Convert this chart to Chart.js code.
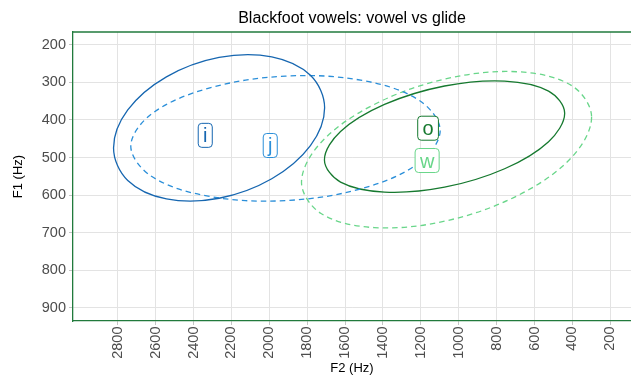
<!DOCTYPE html>
<html>
<head>
<meta charset="utf-8">
<script src="https://cdn.jsdelivr.net/npm/chart.js@4"></script>
<style>
html,body{margin:0;padding:0;background:#fff;}
canvas{display:block;}
</style>
</head>
<body>
<canvas id="c" width="631" height="376"></canvas>
<script>
// ---- data ----
const chartTitle = 'Blackfoot vowels: vowel vs glide';
const xTitle = 'F2 (Hz)';
const yTitle = 'F1 (Hz)';
const xTickValues = [2800, 2600, 2400, 2200, 2000, 1800, 1600, 1400, 1200, 1000, 800, 600, 400, 200];
const yTickValues = [200, 300, 400, 500, 600, 700, 800, 900];

// ellipse outlines (F2, F1) traced around each ellipse
const iF2 = [1708, 1783, 1987, 2265, 2543, 2747, 2822, 2747, 2543, 2265, 1987, 1783];
const iF1 = [367.6, 468.5, 556.6, 608.4, 610, 560.9, 474.4, 373.5, 285.4, 233.6, 232, 281.1];
const jF2 = [1098, 1208, 1507, 1915, 2323, 2622, 2731, 2622, 2323, 1915, 1507, 1208];
const jF1 = [428.1, 513.7, 581.9, 614.6, 602.9, 549.9, 469.9, 384.3, 316.1, 283.4, 295.1, 348.1];
const oF2 = [441, 526, 758, 1075, 1392, 1624, 1709, 1624, 1392, 1075, 758, 526];
const oF1 = [382.2, 457.8, 529.8, 578.9, 592, 565.4, 506.4, 430.8, 358.8, 309.7, 296.6, 323.2];
const wF2 = [299, 402, 682, 1064, 1447, 1727, 1830, 1727, 1447, 1064, 682, 402];
const wF1 = [392.3, 498.4, 599.4, 668.2, 686.4, 649, 566.1, 460, 359, 290.2, 272, 309.4];

// label positions
const labelText = ['i', 'j', 'o', 'w'];
const labelF2 = [2338, 1995, 1162, 1167];
const labelF1 = [441, 468, 422, 508];

// ---- styling ----
const FONT = "'Liberation Sans', Arial, Helvetica, sans-serif";
const colors = {i: '#1666b0', j: '#2b8fd9', o: '#16792f', w: '#69d68a'};
const borderGreen = '#217a3c';

function closedPoints(xs, ys) {
  const n = xs.length;
  const pts = xs.map((x, k) => ({x: x, y: ys[k]}));
  // wrap one point on each side so the curve closes smoothly
  return [pts[n - 1]].concat(pts, [pts[0], pts[1]]);
}
function ellipseDataset(name, xs, ys, dashed) {
  const data = closedPoints(xs, ys);
  const last = data.length - 2;
  return {
    label: name,
    data: data,
    showLine: true,
    borderColor: colors[name],
    borderWidth: 1.3,
    borderDash: dashed ? [5.5, 4] : [],
    pointRadius: 0,
    pointHoverRadius: 0,
    tension: 0.35,
    fill: false,
    segment: {
      borderColor: ctx => (ctx.p0DataIndex === 0 || ctx.p0DataIndex === last) ? 'rgba(0,0,0,0)' : undefined
    }
  };
}

const decorPlugin = {
  id: 'decor',
  afterDatasetsDraw(chart) {
    const ctx = chart.ctx;
    const xs = chart.scales.x, ys = chart.scales.y;
    ctx.save();
    ctx.font = '20px ' + FONT;
    ctx.textAlign = 'center';
    ctx.textBaseline = 'alphabetic';
    labelText.forEach((t, k) => {
      const px = xs.getPixelForValue(labelF2[k]);
      const py = ys.getPixelForValue(labelF1[k]);
      const w = ctx.measureText(t).width + 9.6;
      const h = 24;
      ctx.beginPath();
      ctx.roundRect(px - w / 2, py - h / 2, w, h, 3.5);
      ctx.fillStyle = '#ffffff';
      ctx.fill();
      ctx.lineWidth = 1;
      ctx.strokeStyle = colors[t];
      ctx.stroke();
      ctx.fillStyle = colors[t];
      ctx.fillText(t, px, py + 7);
    });
    ctx.restore();
  },
  afterDraw(chart) {
    const ctx = chart.ctx;
    const a = chart.chartArea;
    ctx.save();
    // top border of panel
    ctx.strokeStyle = borderGreen;
    ctx.lineWidth = 1.3;
    ctx.beginPath();
    ctx.moveTo(a.left, a.top);
    ctx.lineTo(a.right, a.top);
    ctx.stroke();
    // title centred over panel
    ctx.fillStyle = '#000';
    ctx.font = '16px ' + FONT;
    ctx.textAlign = 'center';
    ctx.textBaseline = 'alphabetic';
    ctx.fillText(chartTitle, (a.left + a.right) / 2, 22.5);
    ctx.restore();
  }
};

new Chart(document.getElementById('c'), {
  type: 'scatter',
  data: {
    datasets: [
      ellipseDataset('i', iF2, iF1, false),
      ellipseDataset('j', jF2, jF1, true),
      ellipseDataset('o', oF2, oF1, false),
      ellipseDataset('w', wF2, wF1, true)
    ]
  },
  options: {
    responsive: false,
    devicePixelRatio: 1,
    animation: false,
    layout: {padding: {top: 32, left: 0, right: 0, bottom: 0}},
    plugins: {
      legend: {display: false},
      tooltip: {enabled: false},
      title: {display: false}
    },
    scales: {
      x: {
        type: 'linear',
        reverse: true,
        min: 91,
        max: 3036,
        afterBuildTicks: s => { s.ticks = xTickValues.map(v => ({value: v})); },
        afterFit: s => { s.height = 55; },
        grid: {color: '#e3e3e3', lineWidth: 1, tickLength: 4, tickColor: '#c4c4c4'},
        border: {display: true, color: borderGreen, width: 1.3},
        ticks: {
          autoSkip: false, minRotation: 90, maxRotation: 90, padding: 1.5,
          color: '#4d4d4d', font: {family: FONT, size: 14.5},
          callback: v => String(v)
        },
        title: {display: true, text: xTitle, color: '#000', font: {family: FONT, size: 13}, padding: {top: 0, bottom: 0}}
      },
      y: {
        type: 'linear',
        reverse: true,
        min: 166,
        max: 935,
        afterBuildTicks: s => { s.ticks = yTickValues.map(v => ({value: v})); },
        afterFit: s => { s.width = 73; },
        grid: {color: '#e3e3e3', lineWidth: 1, tickLength: 4, tickColor: '#c4c4c4'},
        border: {display: true, color: borderGreen, width: 1.3},
        ticks: {
          padding: 3, color: '#4d4d4d', font: {family: FONT, size: 14.5},
          callback: v => String(v)
        },
        title: {display: true, text: yTitle, color: '#000', font: {family: FONT, size: 13}, padding: {top: 10.5, bottom: 0}}
      }
    }
  },
  plugins: [decorPlugin]
});
</script>
</body>
</html>
